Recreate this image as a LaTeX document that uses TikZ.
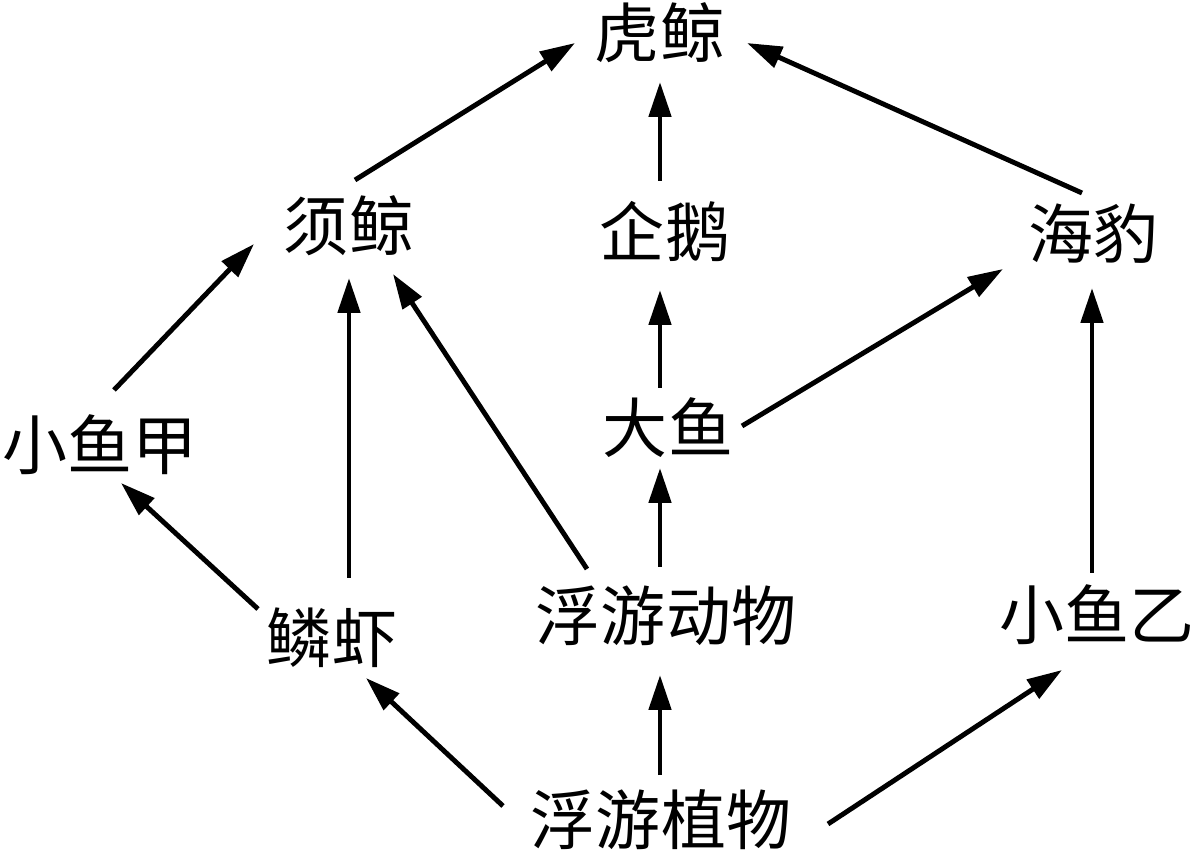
\documentclass[tikz,border=0pt]{standalone}
\usepackage{fontspec}
\newfontfamily\cjk{Noto Sans CJK SC}
\usetikzlibrary{arrows.meta,calc}
\begin{document}
\begin{tikzpicture}[x=0.02cm,y=-0.02cm,
  sp/.style={font=\cjk\fontsize{37}{40}\selectfont, inner sep=0pt, text height=31.1pt, text depth=3pt},
  ar/.style={line width=2.8pt, -{Triangle[length=0.7cm,width=0.44cm]}}]
\useasboundingbox (0,0) rectangle (1197,854);
\node[sp] (hj) at (660,33) {虎鲸};
\node[sp] (xj) at (349,226) {须鲸};
\node[sp] (qe) at (665,232) {企鹅};
\node[sp] (hb) at (1093,234) {海豹};
\node[sp] (xa) at (100,445) {小鱼甲};
\node[sp] (dy) at (668,428) {大鱼};
\node[sp] (lx) at (332,638) {鳞虾};
\node[sp] (fd) at (666,616) {浮游动物};
\node[sp] (xb) at (1097,615) {小鱼乙};
\node[sp] (fz) at (661,820) {浮游植物};
\draw[ar] ($(xj)+(6,-46)$) -- ($(hj)+(-85,10)$);
\draw[ar] ($(qe)+(-5,-51)$) -- ($(hj)+(0,49)$);
\draw[ar] ($(hb)+(-11,-41)$) -- ($(hj)+(87,10)$);
\draw[ar] ($(xa)+(14,-55)$) -- ($(xj)+(-95,18)$);
\draw[ar] ($(lx)+(17,-60)$) -- ($(xj)+(0,52)$);
\draw[ar] ($(fd)+(-79,-47)$) -- ($(xj)+(44,48)$);
\draw[ar] ($(dy)+(-8,-40)$) -- ($(qe)+(-5,58)$);
\draw[ar] ($(dy)+(74,-2)$) -- ($(hb)+(-90,35)$);
\draw[ar] ($(xb)+(-5,-42)$) -- ($(hb)+(-1,54)$);
\draw[ar] ($(fd)+(-6,-49)$) -- ($(dy)+(-8,40)$);
\draw[ar] ($(lx)+(-74,-29)$) -- ($(xa)+(21,38)$);
\draw[ar] ($(fz)+(-158,-14)$) -- ($(lx)+(34,40)$);
\draw[ar] ($(fz)+(-1,-45)$) -- ($(fd)+(-6,59)$);
\draw[ar] ($(fz)+(167,4)$) -- ($(xb)+(-35,55)$);
\end{tikzpicture}
\end{document}
